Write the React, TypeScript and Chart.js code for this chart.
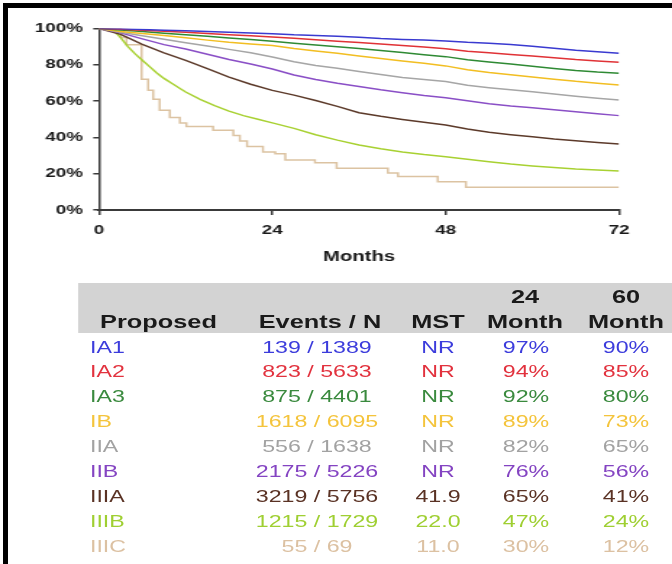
import React, { useEffect, useRef } from 'react';
import { Chart, registerables } from 'chart.js';
Chart.register(...registerables);

// horizontal stretch of the whole figure
const INNER_W = 464;
const S = 672 / INNER_W;
const FONT = "'Liberation Sans', Arial, Helvetica, sans-serif";

const stages = ['IA1', 'IA2', 'IA3', 'IB', 'IIA', 'IIB', 'IIIA', 'IIIB', 'IIIC'];
const events = [139, 823, 875, 1618, 556, 2175, 3219, 1215, 55];
const totals = [1389, 5633, 4401, 6095, 1638, 5226, 5756, 1729, 69];
const mst = ['NR', 'NR', 'NR', 'NR', 'NR', 'NR', '41.9', '22.0', '11.0'];
const surv24 = [97, 94, 92, 89, 82, 76, 65, 47, 30];
const surv60 = [90, 85, 80, 73, 65, 56, 41, 24, 12];
const lineColors = ['#3a3ad0', '#e03236', '#2f8a34', '#f2be22', '#a6a6a6', '#8a4fc6', '#5c3a2a', '#a8d132', '#dcc3a2'];
const textColors = ['#3c3cdc', '#e2323e', '#3a8a3e', '#f4c43c', '#a2a2a2', '#8444c2', '#5a3224', '#9fcf32', '#dcc1a2'];
const steppedSeries = [false, false, false, false, false, false, false, false, true];

const xTicks = [0, 24, 48, 72];
const yTicks = [0, 20, 40, 60, 80, 100];

const gridMonths = [0, 3, 6, 9, 12, 15, 18, 21, 24, 27, 30, 33, 36, 39, 42, 45, 48, 51, 54, 57, 60, 63, 66, 69, 72];
const ia1 = [100, 99.8, 99.5, 99.1, 98.7, 98.3, 97.9, 97.5, 97.1, 96.5, 96.1, 95.7, 95.2, 94.5, 94.0, 93.6, 93.1, 92.4, 91.9, 91.2, 90.2, 89.1, 88.0, 87.2, 86.3];
const ia2 = [100, 99.6, 99.1, 98.5, 97.9, 97.2, 96.6, 96.0, 95.3, 94.6, 93.8, 93.0, 92.3, 91.5, 90.6, 89.8, 88.9, 87.5, 86.6, 85.7, 84.8, 83.9, 82.9, 82.1, 81.4];
const ia3 = [100, 99.2, 98.3, 97.4, 96.5, 95.7, 94.8, 94.0, 93.0, 91.9, 90.9, 90.0, 89.0, 87.9, 86.8, 85.6, 84.5, 82.8, 81.6, 80.4, 79.2, 78.0, 76.9, 76.0, 75.3];
const ib = [100, 98.4, 97.2, 96.2, 94.9, 93.6, 92.4, 91.5, 90.6, 89.0, 87.6, 86.3, 84.9, 83.5, 82.1, 80.8, 79.4, 77.3, 75.8, 74.5, 73.3, 72.1, 70.9, 69.9, 68.9];
const iia = [100, 97.9, 96.0, 94.1, 92.2, 90.4, 88.5, 86.6, 84.3, 81.7, 79.6, 78.1, 76.3, 74.6, 73.0, 71.9, 70.8, 68.7, 67.4, 66.2, 65.1, 63.9, 62.7, 61.6, 60.6];
const iib = [100, 97.6, 94.3, 91.1, 88.7, 85.8, 82.9, 80.4, 77.7, 74.4, 71.9, 69.8, 68.0, 66.2, 64.6, 63.1, 61.8, 60.2, 58.5, 57.3, 56.3, 55.2, 54.1, 53.0, 52.0];
const iiia = [100, 96.8, 91.3, 86.6, 82.4, 77.9, 73.2, 69.3, 65.9, 63.3, 60.3, 57.1, 53.6, 51.6, 49.9, 48.3, 46.8, 44.6, 42.8, 41.5, 40.3, 39.1, 38.1, 37.2, 36.4];
const iiibMonths = [0, 2, 3, 4, 5, 6, 7, 8, 9, 10, 11, 12, 14, 16, 18, 20, 22, 24, 27, 30, 33, 36, 39, 42, 45, 48, 51, 54, 57, 60, 63, 66, 69, 72];
const iiib = [100, 99, 95, 90, 86, 82.5, 79, 75.5, 72.5, 70, 67.5, 65, 61, 57.5, 54.5, 52, 50, 48, 45, 41.5, 38.5, 35.8, 33.8, 32, 30.6, 29.4, 28, 26.6, 25.3, 24.3, 23.4, 22.6, 22, 21.5];
const iiicMonths = [0, 3, 3.8, 5.9, 6.8, 7.5, 8.4, 9.8, 11.2, 12.1, 15.8, 18.6, 19.5, 20.5, 22.7, 24.4, 25.8, 29.9, 32.9, 40, 41.4, 46.9, 50.8, 72];
const iiic = [100, 95, 91, 72, 66, 61, 55, 51, 48, 46, 44, 41, 38, 35, 32, 31, 27.5, 26, 23, 20.4, 18.4, 15.6, 12.5, 12.5];

const seriesMonths = [gridMonths, gridMonths, gridMonths, gridMonths, gridMonths, gridMonths, gridMonths, iiibMonths, iiicMonths];
const seriesValues = [ia1, ia2, ia3, ib, iia, iib, iiia, iiib, iiic];

// layout (in un-stretched coordinates)
const CHART_H = 270;
const PLOT_LEFT = 99 / S;
const PLOT_RIGHT = 619 / S;
const PLOT_TOP = 28.5;
const PLOT_BOTTOM = 210;

const ROW0 = 347.5;
const ROW_STEP = 24.9;

function App() {
  const ref = useRef<HTMLCanvasElement | null>(null);
  useEffect(() => {
    if (!ref.current) return;
    Chart.defaults.font.family = FONT;
    const chart = new Chart(ref.current, {
      type: 'line',
      data: {
        datasets: stages.map((s, i) => ({
          label: s,
          data: seriesMonths[i].map((m, j) => ({ x: m, y: seriesValues[i][j] })),
          borderColor: lineColors[i],
          backgroundColor: lineColors[i],
          borderWidth: 1.5,
          pointRadius: 0,
          stepped: steppedSeries[i] ? ('before' as const) : false,
          tension: 0,
          fill: false,
        })),
      },
      options: {
        animation: false,
        responsive: true,
        maintainAspectRatio: false,
        layout: { padding: { top: PLOT_TOP, left: 0, right: INNER_W - PLOT_RIGHT, bottom: 0 } },
        plugins: { legend: { display: false }, tooltip: { enabled: false } },
        scales: {
          x: {
            type: 'linear',
            min: 0,
            max: 72,
            afterFit: (sc: any) => { sc.height = CHART_H - PLOT_BOTTOM; },
            afterBuildTicks: (sc: any) => { sc.ticks = xTicks.map((v) => ({ value: v })); },
            grid: { display: true, drawOnChartArea: false, drawTicks: true, tickLength: 5, color: '#3a3a3a', lineWidth: 1.5 },
            border: { display: true, color: '#3a3a3a', width: 2 },
            ticks: { color: '#1a1a1a', font: { size: 13, weight: 'bold' }, padding: 8, maxRotation: 0 },
            title: { display: true, text: 'Months', color: '#1a1a1a', font: { size: 14, weight: 'bold' }, padding: { top: 0, bottom: 4.6 } },
          },
          y: {
            type: 'linear',
            min: 0,
            max: 100,
            afterFit: (sc: any) => { sc.width = PLOT_LEFT; },
            afterBuildTicks: (sc: any) => { sc.ticks = yTicks.map((v) => ({ value: v })); },
            grid: { display: true, drawOnChartArea: false, drawTicks: true, tickLength: 4, color: '#3a3a3a', lineWidth: 1.5 },
            border: { display: true, color: '#3a3a3a', width: 1.5 },
            ticks: { color: '#1a1a1a', font: { size: 13, weight: 'bold' }, padding: 7, callback: (v: any) => v + '%' },
          },
        },
      },
    });
    return () => chart.destroy();
  }, []);

  const cell = (text: string, cx: number, cy: number, color: string, opts: any = {}) => (
    <div
      key={text + cx + '_' + cy}
      style={{
        position: 'absolute',
        left: opts.left !== undefined ? opts.left : cx - 60,
        top: cy - 11,
        width: 120,
        height: 22,
        lineHeight: '22px',
        textAlign: opts.left !== undefined ? 'left' : 'center',
        color,
        fontFamily: FONT,
        fontSize: opts.size || 16,
        fontWeight: opts.bold ? 'bold' : 'normal',
        whiteSpace: 'nowrap',
      }}
    >
      {text}
    </div>
  );

  const hdrColor = '#1a1a1a';
  const headers = [
    cell('Proposed', 100 / S + 40.4, 322, hdrColor, { bold: true, size: 17.5 }),
    cell('Events / N', 320 / S, 322, hdrColor, { bold: true, size: 17.5 }),
    cell('MST', 438 / S, 322, hdrColor, { bold: true, size: 17.5 }),
    cell('24', 525 / S, 297, hdrColor, { bold: true, size: 17.5 }),
    cell('Month', 525 / S, 322, hdrColor, { bold: true, size: 17.5 }),
    cell('60', 626 / S, 297, hdrColor, { bold: true, size: 17.5 }),
    cell('Month', 626 / S, 322, hdrColor, { bold: true, size: 17.5 }),
  ];

  const rows = stages.map((s, i) => {
    const cy = ROW0 + ROW_STEP * i;
    const c = textColors[i];
    return [
      cell(s, 0, cy, c, { left: 90 / S }),
      cell(events[i] + ' / ' + totals[i], 317 / S, cy, c),
      cell(mst[i], 438 / S, cy, c),
      cell(surv24[i] + '%', 526 / S, cy, c),
      cell(surv60[i] + '%', 626 / S, cy, c),
    ];
  });

  return (
    <div style={{ position: 'absolute', left: 0, top: 0, width: 672, height: 564, overflow: 'hidden', background: '#fff' }}>
      <div style={{ position: 'absolute', left: 0, top: 0, width: INNER_W, height: 564, transform: `scaleX(${S})`, transformOrigin: '0 0' }}>
        <div style={{ position: 'absolute', left: 0, top: 0, width: INNER_W, height: CHART_H }}>
          <canvas ref={ref} />
        </div>
        <div style={{ position: 'absolute', left: 78 / S, top: 283, width: INNER_W - 78 / S, height: 50, background: '#d3d3d3' }} />
        {headers}
        {rows}
      </div>
      <div style={{ position: 'absolute', left: 3, top: 3, width: 669, height: 5, background: '#000' }} />
      <div style={{ position: 'absolute', left: 3, top: 3, width: 5, height: 561, background: '#000' }} />
    </div>
  );
}

export default App;
